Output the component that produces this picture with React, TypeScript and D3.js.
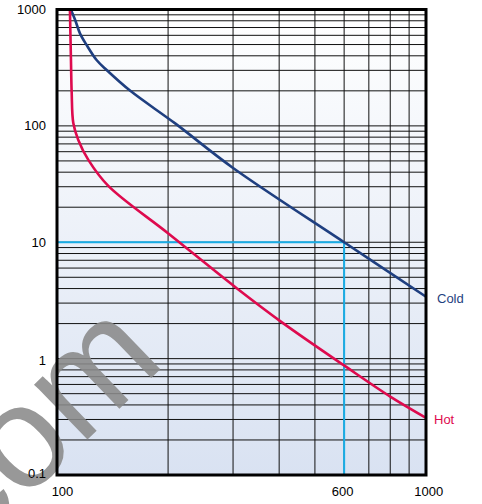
import React from "react";
import * as d3 from "d3";

const coldX = [109, 112, 115.4, 120.3, 128, 136.3, 158, 209, 300, 600, 1000];
const coldY = [1000, 812, 624, 495, 368, 302, 200, 105, 43.5, 10, 3.4];
const hotX = [108.4, 109.1, 109.6, 110.7, 114.2, 121.6, 137.7, 200.3, 306.9, 410.6, 597, 800, 1000];
const hotY = [1000, 368, 192, 106, 75.7, 51, 30.5, 11.9, 4.03, 2.01, 0.883, 0.472, 0.31];
const refX = [100, 600, 600];
const refY = [10, 10, 0.1];
const xTickLabels = [100, 600, 1000];
const yTickLabels = [0.1, 1, 10, 100, 1000];
const xGridValues = [200, 300, 400, 500, 600, 700, 800, 900];
const decades = [0.1, 1, 10, 100];
const seriesNames = ["Cold", "Hot"];

const W = 482;
const H = 504;
const FONT = "'Liberation Sans', Arial, Helvetica, sans-serif";

export default function App() {
  const x = d3.scaleLog().domain([100, 1000]).range([57, 426]);
  const y = d3.scaleLog().domain([0.1, 1000]).range([475, 9.5]);

  const yGrid: number[] = [];
  decades.forEach((d) => {
    for (let k = 1; k <= 9; k++) yGrid.push(+(k * d).toPrecision(3));
  });
  yGrid.push(1000);

  const line = d3
    .line<[number, number]>()
    .x((p) => x(p[0]))
    .y((p) => y(p[1]))
    .curve(d3.curveCatmullRom.alpha(0.5));
  const cold = line(coldX.map((v, i) => [v, coldY[i]]));
  const hot = line(hotX.map((v, i) => [v, hotY[i]]));
  const ref = d3
    .line<[number, number]>()
    .x((p) => x(p[0]))
    .y((p) => y(p[1]))(refX.map((v, i) => [v, refY[i]]));

  const [x0, x1] = x.range();
  const [y0, y1] = y.range();

  const xDx = (v: number) => (v === 100 ? 5.5 : v === 1000 ? 2.7 : -1.5);
  const yDy = (v: number) => (v === 0.1 ? -2 : v === 1 ? 2 : 0);

  return (
    <svg
      width={W}
      height={H}
      style={{ position: "absolute", left: 0, top: 0, background: "#fff" }}
    >
      <defs>
        <linearGradient id="bg" x1="0" y1="0" x2="0" y2="1">
          <stop offset="0" stopColor="#ffffff" />
          <stop offset="1" stopColor="#d9e2f2" />
        </linearGradient>
        <clipPath id="page">
          <rect x={0} y={0} width={W} height={H} />
        </clipPath>
      </defs>
      <rect x={x0} y={y1} width={x1 - x0} height={y0 - y1} fill="url(#bg)" />
      {yGrid.map((v) => (
        <line key={"h" + v} x1={x0} x2={x1} y1={y(v)} y2={y(v)} stroke="#111" strokeWidth={1} />
      ))}
      {xGridValues.map((v) => (
        <line key={"v" + v} x1={x(v)} x2={x(v)} y1={y1} y2={y0} stroke="#111" strokeWidth={1} />
      ))}
      <path d={ref || ""} fill="none" stroke="#19ade6" strokeWidth={2} />
      <path d={cold || ""} fill="none" stroke="#1f3f80" strokeWidth={2.6} />
      <path d={hot || ""} fill="none" stroke="#de0a4e" strokeWidth={2.6} />
      <g clipPath="url(#page)">
        <text
          transform="translate(-30,553) rotate(-44)"
          fontFamily={FONT}
          fontSize={145}
          fill="#8a8a8a"
          opacity={0.88}
        >
          com
        </text>
      </g>
      <rect
        x={x0}
        y={y1}
        width={x1 - x0}
        height={y0 - y1}
        fill="none"
        stroke="#000"
        strokeWidth={3}
      />
      {yTickLabels.map((v) => (
        <text
          key={"yl" + v}
          x={46}
          y={y(v) + yDy(v)}
          textAnchor="end"
          dominantBaseline="central"
          fontFamily={FONT}
          fontSize={13}
          fill="#000"
        >
          {String(v)}
        </text>
      ))}
      {xTickLabels.map((v) => (
        <text
          key={"xl" + v}
          x={x(v) + xDx(v)}
          y={496}
          textAnchor="middle"
          fontFamily={FONT}
          fontSize={13}
          fill="#000"
        >
          {String(v)}
        </text>
      ))}
      <text
        x={x1 + 11}
        y={y(coldY[coldY.length - 1]) + 2}
        dominantBaseline="central"
        fontFamily={FONT}
        fontSize={13}
        fill="#1f3f80"
      >
        {seriesNames[0]}
      </text>
      <text
        x={x1 + 8}
        y={y(hotY[hotY.length - 1]) + 2}
        dominantBaseline="central"
        fontFamily={FONT}
        fontSize={13}
        fill="#de0a4e"
      >
        {seriesNames[1]}
      </text>
    </svg>
  );
}
